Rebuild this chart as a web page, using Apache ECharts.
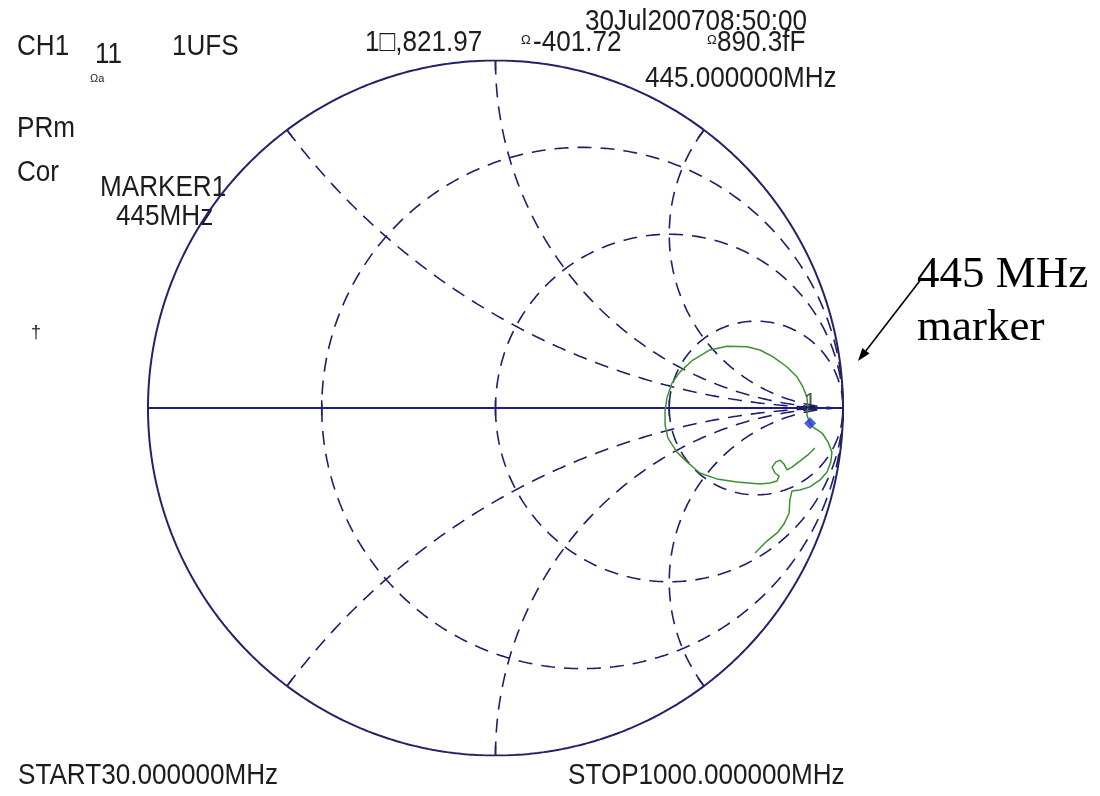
<!DOCTYPE html>
<html>
<head>
<meta charset="utf-8">
<script src="https://cdn.jsdelivr.net/npm/echarts@6/dist/echarts.min.js"></script>
<style>
  html, body { margin: 0; padding: 0; background: #ffffff; }
  #chart { width: 1100px; height: 796px; }
</style>
</head>
<body>
<div id="chart"></div>
<script>
// ---- Smith chart grid values (normalised) ----
const resistanceCircles = [1 / 3, 1, 3];
const reactanceArcs = [0.5, 1, 2, -0.5, -1, -2];

// ---- S11 sweep 30 MHz .. 1000 MHz, reflection coefficient ----
const traceRe = [
  0.919, 0.899, 0.876, 0.853, 0.839, 0.830, 0.819, 0.807, 0.796, 0.804,
  0.816, 0.810, 0.790, 0.761, 0.695, 0.637, 0.588, 0.551, 0.522, 0.496,
  0.488, 0.488, 0.494, 0.508, 0.531, 0.568, 0.617, 0.666, 0.724, 0.761,
  0.799, 0.839, 0.868, 0.885, 0.896, 0.899, 0.896, 0.905, 0.914, 0.940,
  0.957, 0.968, 0.965, 0.954, 0.934, 0.905, 0.876, 0.853, 0.847, 0.845,
  0.830, 0.813, 0.781, 0.747
];
const traceIm = [
  -0.115, -0.135, -0.153, -0.170, -0.178, -0.161, -0.150, -0.155, -0.170, -0.187,
  -0.196, -0.210, -0.216, -0.219, -0.213, -0.204, -0.187, -0.155, -0.127, -0.086,
  -0.049, -0.006, 0.032, 0.072, 0.104, 0.138, 0.167, 0.178, 0.176, 0.167,
  0.147, 0.118, 0.089, 0.060, 0.032, 0.003, -0.020, -0.044, -0.055, -0.072,
  -0.098, -0.127, -0.155, -0.184, -0.207, -0.227, -0.236, -0.239, -0.265, -0.302,
  -0.334, -0.357, -0.383, -0.417
];

// ---- Marker 1 readout ----
const markerLabel = '1';
const markerResistance = 821.97;   // ohms
const markerReactance = -401.72;   // ohms
const systemZ0 = 50;               // ohms

// ---- Instrument annotation texts ----
const headerTexts = {
  channel: 'CH1',
  param: '11',
  paramUnit: 'Ωa',
  scale: '1UFS',
  markerR: '1□,821.97',
  markerX: '-401.72',
  markerC: '890.3fF',
  timestamp: '30Jul200708:50:00',
  markerFreq: '445.000000MHz',
  sideA: 'PRm',
  sideB: 'Cor',
  markerName: 'MARKER1',
  markerNameFreq: '445MHz',
  refSign: '†',
  start: 'START30.000000MHz',
  stop: 'STOP1000.000000MHz'
};
const calloutLines = ['445 MHz', 'marker'];

// ---- helpers ----
function gammaFromZ(r, x) {
  // Γ = (z - 1) / (z + 1) with z = r + jx
  const nr = r - 1, ni = x, dr = r + 1, di = x;
  const d = dr * dr + di * di;
  return [(nr * dr + ni * di) / d, (ni * dr - nr * di) / d];
}

function unitCircle(n) {
  const pts = [];
  for (let i = 0; i <= n; i++) {
    const a = (i / n) * Math.PI * 2;
    pts.push([Math.cos(a), Math.sin(a)]);
  }
  return pts;
}

function resistanceCircle(r, n) {
  const c = r / (1 + r), rad = 1 / (1 + r);
  const pts = [];
  for (let i = 0; i <= n; i++) {
    const a = Math.PI + (i / n) * Math.PI * 2;
    pts.push([c + rad * Math.cos(a), rad * Math.sin(a)]);
  }
  return pts;
}

function reactanceArc(x, n) {
  const pts = [];
  for (let i = 0; i < n; i++) {
    const t = (i / n) * (Math.PI / 2);
    pts.push(gammaFromZ(Math.tan(t), x));
  }
  pts.push([1, 0]);
  return pts;
}

const navy = '#222266';
const gridDash = '#1f1f66';
const dashPattern = [14, 9];

const series = [];

// outer boundary
series.push({
  type: 'line', data: unitCircle(720), showSymbol: false, silent: true,
  lineStyle: { color: navy, width: 2 }, z: 3
});
// real axis
series.push({
  type: 'line', data: [[-1, 0], [1, 0]], showSymbol: false, silent: true,
  lineStyle: { color: '#1d1d84', width: 2.2 }, z: 3
});
// resistance circles
resistanceCircles.forEach(function (r) {
  series.push({
    type: 'line', data: resistanceCircle(r, 720), showSymbol: false, silent: true,
    lineStyle: { color: gridDash, width: 1.6, type: dashPattern }, z: 2
  });
  const g = (r - 1) / (r + 1);
  series.push({
    type: 'line', data: [[g, -0.022], [g, 0.022]], showSymbol: false, silent: true,
    lineStyle: { color: navy, width: 1.6 }, z: 3
  });
});
// reactance arcs
reactanceArcs.forEach(function (x) {
  series.push({
    type: 'line', data: reactanceArc(x, 900), showSymbol: false, silent: true,
    lineStyle: { color: gridDash, width: 1.6, type: dashPattern }, z: 2
  });
  const p = gammaFromZ(0, x);
  series.push({
    type: 'line', data: [p, [p[0] * 0.972, p[1] * 0.972]], showSymbol: false, silent: true,
    lineStyle: { color: navy, width: 1.6 }, z: 3
  });
});

// measured trace
const traceData = traceRe.map(function (v, i) { return [v, traceIm[i]]; });
series.push({
  type: 'line', data: traceData, showSymbol: false, silent: true,
  lineStyle: { color: '#3f8f35', width: 1.5 }, z: 5
});

// marker 1, placed from its impedance readout
const mk = gammaFromZ(markerResistance / systemZ0, markerReactance / systemZ0);
series.push({
  type: 'scatter', data: [mk], symbol: 'diamond', symbolSize: 12, silent: true,
  itemStyle: { color: '#1f35d6' }, z: 6,
  label: {
    show: true, formatter: markerLabel, position: 'top', distance: 4,
    color: '#222', fontFamily: 'Liberation Sans', fontSize: 22
  }
});

// ---- annotation graphics ----
const FONT = 'Liberation Sans';
function label(text, x, y, size, scaleX, extra) {
  return Object.assign({
    type: 'text', x: x, y: y, scaleX: scaleX, silent: true,
    style: {
      text: text, x: 0, y: 0, fill: '#1c1c1c',
      font: size + 'px "' + FONT + '"',
      align: 'left', verticalAlign: 'middle',
      textAlign: 'left', textVerticalAlign: 'middle'
    }
  }, extra || {});
}
const SX = 0.87;
const graphics = [
  label(headerTexts.channel, 17, 47, 30, SX),
  label(headerTexts.param, 95, 55, 30, SX),
  label(headerTexts.paramUnit, 90, 79, 11, 1),
  label(headerTexts.scale, 172, 47, 30, SX),
  label(headerTexts.markerR, 365, 43, 30, SX),
  label('Ω', 521, 40, 13, 1),
  label(headerTexts.markerX, 533, 43, 30, SX),
  label(headerTexts.timestamp, 585, 22, 30, SX),
  label('Ω', 707, 40, 13, 1),
  label(headerTexts.markerC, 717, 43, 30, SX),
  label(headerTexts.markerFreq, 645, 79, 30, SX),
  label(headerTexts.sideA, 17, 129, 30, SX),
  label(headerTexts.sideB, 17, 173, 30, SX),
  label(headerTexts.markerName, 100, 188, 30, SX),
  label(headerTexts.markerNameFreq, 116, 217, 30, SX),
  label(headerTexts.refSign, 31, 333, 18, 1),
  label(headerTexts.start, 18, 776, 30, SX),
  label(headerTexts.stop, 568, 776, 30, SX)
];

// callout text
calloutLines.forEach(function (t, i) {
  graphics.push({
    type: 'text', x: 917, y: 253 + i * 53, silent: true,
    style: {
      text: t, x: 0, y: 0, fill: '#000',
      font: '45px "Liberation Serif"',
      align: 'left', verticalAlign: 'alphabetic',
      textAlign: 'left', textVerticalAlign: 'alphabetic'
    }
  });
});

// callout arrow
(function () {
  const tail = [922, 278], tip = [858, 361];
  const dx = tip[0] - tail[0], dy = tip[1] - tail[1];
  const len = Math.sqrt(dx * dx + dy * dy);
  const ux = dx / len, uy = dy / len;
  const hl = 13, hw = 4.5;
  const bx = tip[0] - ux * hl, by = tip[1] - uy * hl;
  graphics.push({
    type: 'line', silent: true,
    shape: { x1: tail[0], y1: tail[1], x2: bx, y2: by },
    style: { stroke: '#000', lineWidth: 1.6 }
  });
  graphics.push({
    type: 'polygon', silent: true,
    shape: { points: [tip, [bx - uy * hw, by + ux * hw], [bx + uy * hw, by - ux * hw]] },
    style: { fill: '#000' }
  });
})();

const chart = echarts.init(document.getElementById('chart'), null, { renderer: 'canvas' });
chart.setOption({
  animation: false,
  backgroundColor: '#ffffff',
  grid: { left: 148, top: 60.5, width: 695, height: 695, containLabel: false },
  xAxis: { type: 'value', min: -1, max: 1, show: false },
  yAxis: { type: 'value', min: -1, max: 1, show: false },
  series: series,
  graphic: graphics
});
</script>
</body>
</html>
